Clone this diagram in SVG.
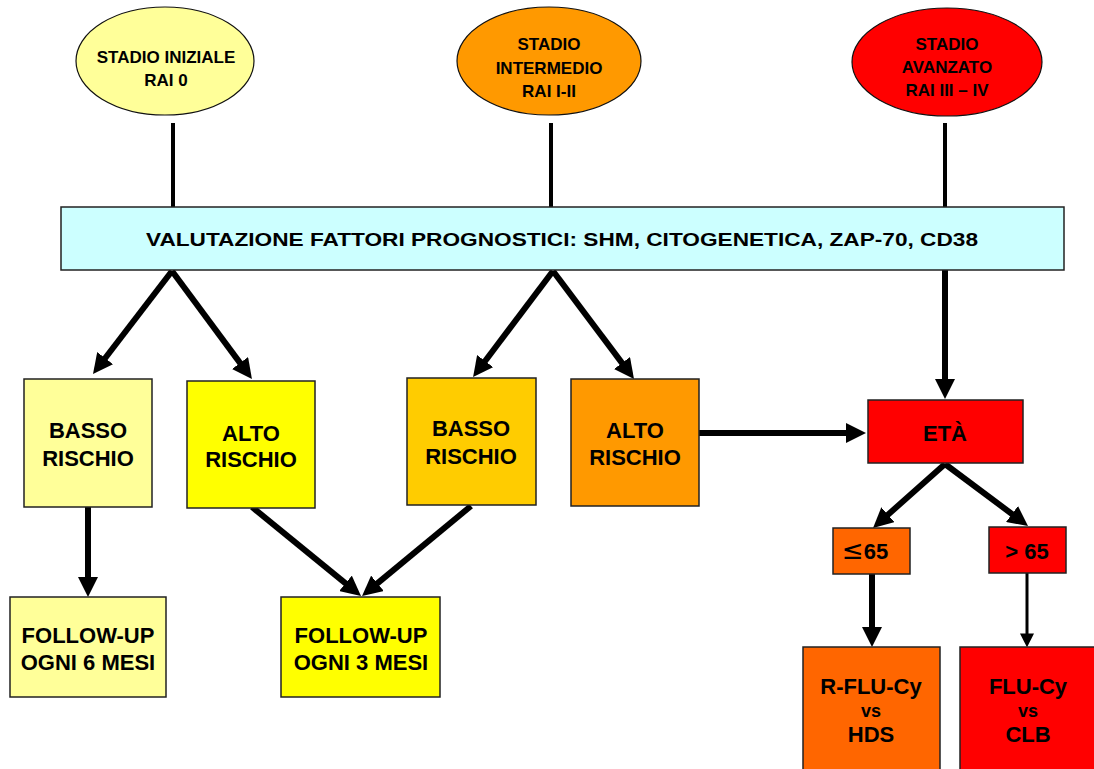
<svg xmlns="http://www.w3.org/2000/svg" width="1094" height="769" viewBox="0 0 1094 769">
<defs>
<style>
text{font-family:"Liberation Sans",Arial,sans-serif;font-weight:bold;fill:#000;text-anchor:middle}
.n{stroke:#222;stroke-width:1.5}
.e{stroke:#111;stroke-width:1.2}
.c{stroke:#000;fill:none}
.t17{font-size:17px}
.t18{font-size:18px}
.t22{font-size:22px}
</style>
<marker id="ah" viewBox="0 0 10 10" refX="4" refY="5" markerWidth="20" markerHeight="20" markerUnits="userSpaceOnUse" orient="auto"><path d="M0,0 L10,5 L0,10 z" fill="#000"/></marker>
<marker id="as" viewBox="0 0 10 10" refX="4" refY="5" markerWidth="14" markerHeight="14" markerUnits="userSpaceOnUse" orient="auto"><path d="M0,0 L10,5 L0,10 z" fill="#000"/></marker>
</defs>
<rect width="1094" height="769" fill="#fff"/>
<g id="connectors">
<line class="c" x1="173" y1="123" x2="173" y2="208" stroke-width="4"/>
<line class="c" x1="551" y1="123" x2="551" y2="208" stroke-width="4"/>
<line class="c" x1="945" y1="123" x2="945" y2="208" stroke-width="4"/>
<line class="c" x1="172" y1="271" x2="100.3" y2="364.5" stroke-width="6" marker-end="url(#ah)"/>
<line class="c" x1="172" y1="271" x2="244.8" y2="369.4" stroke-width="6" marker-end="url(#ah)"/>
<line class="c" x1="553" y1="271" x2="480.3" y2="367.5" stroke-width="6" marker-end="url(#ah)"/>
<line class="c" x1="553" y1="271" x2="626.8" y2="369.4" stroke-width="6" marker-end="url(#ah)"/>
<line class="c" x1="945" y1="270" x2="945" y2="387" stroke-width="6" marker-end="url(#ah)"/>
<line class="c" x1="699" y1="433" x2="854" y2="433" stroke-width="6" marker-end="url(#ah)"/>
<line class="c" x1="945" y1="464" x2="882" y2="520" stroke-width="6" marker-end="url(#ah)"/>
<line class="c" x1="945" y1="464" x2="1018.4" y2="518.8" stroke-width="6" marker-end="url(#ah)"/>
<line class="c" x1="88" y1="507" x2="88" y2="585" stroke-width="6" marker-end="url(#ah)"/>
<line class="c" x1="252" y1="507" x2="351.7" y2="588.4" stroke-width="6" marker-end="url(#ah)"/>
<line class="c" x1="471" y1="506" x2="371.3" y2="588.4" stroke-width="6" marker-end="url(#ah)"/>
<line class="c" x1="872" y1="574" x2="872" y2="635" stroke-width="6" marker-end="url(#ah)"/>
<line class="c" x1="1027" y1="573" x2="1027" y2="639" stroke-width="3" marker-end="url(#as)"/>
</g>
<g id="stadio-iniziale">
<ellipse class="e" cx="165" cy="61" rx="89" ry="54" fill="#FFFF99"/>
<text class="t17" x="166" y="63">STADIO INIZIALE</text>
<text class="t17" x="166" y="86">RAI 0</text>
</g>
<g id="stadio-intermedio">
<ellipse class="e" cx="549" cy="61" rx="92" ry="54" fill="#FF9900"/>
<text class="t17" x="549" y="50">STADIO</text>
<text class="t17" x="549" y="74">INTERMEDIO</text>
<text class="t17" x="549" y="97">RAI I-II</text>
</g>
<g id="stadio-avanzato">
<ellipse class="e" cx="947" cy="62" rx="95" ry="54" fill="#FF0000"/>
<text class="t17" x="947" y="50">STADIO</text>
<text class="t17" x="947" y="73">AVANZATO</text>
<text class="t17" x="947" y="96">RAI III – IV</text>
</g>
<g id="valutazione">
<rect class="n" x="61" y="207" width="1003" height="63" fill="#CCFFFF"/>
<text x="562" y="246" font-size="19" textLength="832" lengthAdjust="spacingAndGlyphs">VALUTAZIONE FATTORI PROGNOSTICI: SHM, CITOGENETICA, ZAP-70, CD38</text>
</g>
<g id="basso-rischio-1">
<rect class="n" x="24" y="379" width="128" height="128" fill="#FFFF99"/>
<text class="t22" x="88" y="438">BASSO</text>
<text class="t22" x="88" y="466">RISCHIO</text>
</g>
<g id="alto-rischio-1">
<rect class="n" x="187" y="381" width="128" height="127" fill="#FFFF00"/>
<text class="t22" x="251" y="441">ALTO</text>
<text class="t22" x="251" y="467">RISCHIO</text>
</g>
<g id="basso-rischio-2">
<rect class="n" x="407" y="378" width="129" height="127" fill="#FFCC00"/>
<text class="t22" x="471" y="436">BASSO</text>
<text class="t22" x="471" y="464">RISCHIO</text>
</g>
<g id="alto-rischio-2">
<rect class="n" x="571" y="379" width="128" height="127" fill="#FF9900"/>
<text class="t22" x="635" y="438">ALTO</text>
<text class="t22" x="635" y="465">RISCHIO</text>
</g>
<g id="eta">
<rect class="n" x="868" y="400" width="155" height="63" fill="#FF0000"/>
<text class="t22" x="945" y="441">ETÀ</text>
</g>
<g id="le65">
<rect class="n" x="833" y="528" width="77" height="46" fill="#FF6600"/>
<text class="t22" x="865" y="559"><tspan font-family="'DejaVu Sans',sans-serif" font-weight="normal" font-size="26">≤</tspan>65</text>
</g>
<g id="gt65">
<rect class="n" x="989" y="527" width="77" height="46" fill="#FF0000"/>
<text class="t22" x="1027" y="559">&gt; 65</text>
</g>
<g id="follow-up-6">
<rect class="n" x="10" y="597" width="156" height="100" fill="#FFFF99"/>
<text class="t22" x="88" y="643">FOLLOW-UP</text>
<text class="t22" x="88" y="670">OGNI 6 MESI</text>
</g>
<g id="follow-up-3">
<rect class="n" x="281" y="597" width="159" height="100" fill="#FFFF00"/>
<text class="t22" x="361" y="643">FOLLOW-UP</text>
<text class="t22" x="361" y="670">OGNI 3 MESI</text>
</g>
<g id="r-flu-cy">
<rect class="n" x="803" y="647" width="137" height="130" fill="#FF6600"/>
<text class="t22" x="871" y="694">R-FLU-Cy</text>
<text class="t18" x="871" y="717">vs</text>
<text class="t22" x="871" y="742">HDS</text>
</g>
<g id="flu-cy">
<rect class="n" x="960" y="647" width="140" height="130" fill="#FF0000"/>
<text class="t22" x="1028" y="694">FLU-Cy</text>
<text class="t18" x="1028" y="717">vs</text>
<text class="t22" x="1028" y="742">CLB</text>
</g>
</svg>
